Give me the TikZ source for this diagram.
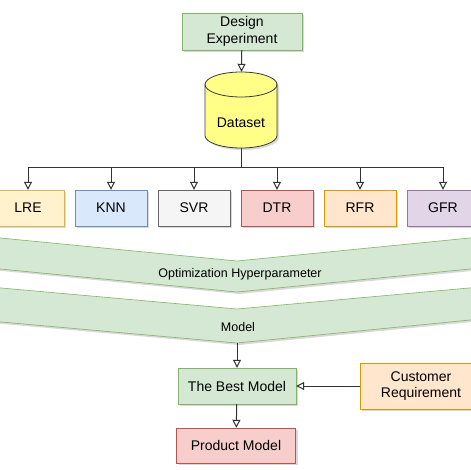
\documentclass[tikz,border=0pt]{standalone}
\usepackage{fontspec}
\setmainfont{Liberation Sans}
\usetikzlibrary{arrows.meta,shadows}

\definecolor{grnfill}{HTML}{D5E8D4}
\definecolor{grnline}{HTML}{82B366}
\definecolor{ylwfill}{HTML}{FFF2CC}
\definecolor{ylwline}{HTML}{D6B656}
\definecolor{bluefill}{HTML}{DAE8FC}
\definecolor{blueline}{HTML}{6C8EBF}
\definecolor{grayfill}{HTML}{F5F5F5}
\definecolor{grayline}{HTML}{666666}
\definecolor{redfill}{HTML}{F8CECC}
\definecolor{redline}{HTML}{B85450}
\definecolor{orgfill}{HTML}{FFE6CC}
\definecolor{orgline}{HTML}{D79B00}
\definecolor{purfill}{HTML}{E1D5E7}
\definecolor{purline}{HTML}{9673A6}
\definecolor{cylfill}{HTML}{FFFF88}
\definecolor{cylline}{HTML}{36393D}

\begin{document}
\begin{tikzpicture}[x=1pt,y=-1pt,node distance=83pt,
	flow/.style={-{Triangle[open,length=8pt,width=8pt]}, draw=black!80, line width=1pt},
	shade box/.style={drop shadow={opacity=0.3,shadow xshift=2pt,shadow yshift=-2pt}},
	main node/.style={rectangle,draw,shade box,minimum width=72pt,minimum height=36pt,
		align=center,font=\fontsize{14}{16.5}\selectfont},
	band/.style={fill=grnfill,draw=grnline,line width=0.6pt,shade box},
	band text/.style={font=\fontsize{12.5}{15}\selectfont},
	rim/.style={x radius=36pt,y radius=12.5pt}]

\useasboundingbox (0,0) rectangle (470,470);

% top
\node[main node,fill=grnfill,draw=grnline,minimum width=120pt,minimum height=37pt] (design) at (242,31.5) {Design\\Experiment};
\draw[fill=cylfill,draw=cylline,line width=0.8pt,shade box] (205,84.5) -- (205,135.5)
	arc[start angle=180,end angle=360,rim] -- (277,84.5)
	arc[start angle=0,end angle=180,rim] -- cycle;
\draw[draw=cylline,line width=0.8pt] (205,84.5) arc[start angle=180,end angle=360,rim];
\node[minimum width=72pt,minimum height=76pt,
	label={[yshift=-13pt,font=\fontsize{14}{16.5}\selectfont]center:Dataset}] (data) at (241,110) {};
\draw[flow] (design) -- (data);

% models
\node[main node,fill=ylwfill,draw=ylwline] (lre) at (28,208) {LRE};
\node[main node,fill=bluefill,draw=blueline] (knn) [right of=lre] {KNN};
\node[main node,fill=grayfill,draw=grayline] (svr) [right of=knn] {SVR};
\node[main node,fill=redfill,draw=redline] (dtr) [right of=svr] {DTR};
\node[main node,fill=orgfill,draw=orgline] (rfr) [right of=dtr] {RFR};
\node[main node,fill=purfill,draw=purline] (gfr) [right of=rfr] {GFR};
\foreach \n in {lre,knn,svr,dtr,rfr,gfr}
	\draw[flow] (data.south) -- ++(0,19) -| (\n);

% bands
\draw[band] (-10,237) -- (237,261) -- (480,237) -- (480,268) -- (237,292) -- (-10,268) -- cycle;
\draw[band] (-10,287) -- (237,309) -- (480,287) -- (480,319) -- (237,343) -- (-10,321) -- cycle;
\node[band text] (opt) at (240,274) {Optimization Hyperparameter};
\node[band text] (model) at (238,327) {Model};
\coordinate (tip) at (237,343);

% bottom
\node[main node,fill=grnfill,draw=grnline,minimum width=118pt] (best) at (237,386) {The Best Model};
\node[main node,fill=orgfill,draw=orgline,minimum width=122pt,minimum height=46pt] (cust) at (421,386) {Customer\\Requirement};
\node[main node,fill=redfill,draw=redline,minimum width=119pt,minimum height=35pt] (prod) at (236,445.5) {Product Model};
\draw[flow] (tip) -- (best);
\draw[flow] (cust) -- (best);
\draw[flow] (best) -- (prod);
\end{tikzpicture}
\end{document}
